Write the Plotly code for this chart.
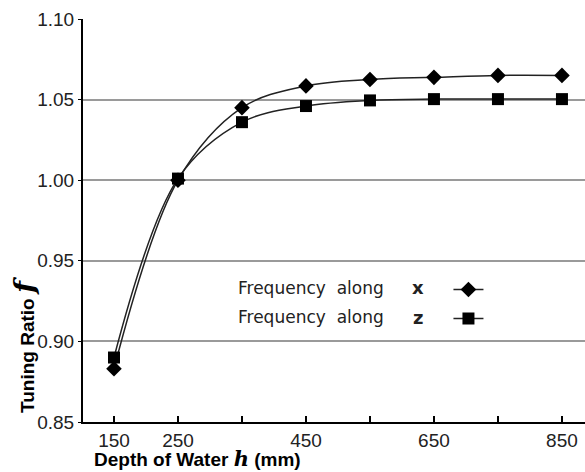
import plotly.graph_objects as go

# Data
depth = [150, 250, 350, 450, 550, 650, 750, 850]
freq_x = [0.883, 1.000, 1.045, 1.0585, 1.0625, 1.0638, 1.065, 1.065]
freq_z = [0.890, 1.001, 1.036, 1.046, 1.0495, 1.0503, 1.0503, 1.0503]
x_tickvals = [150, 250, 350, 450, 550, 650, 750, 850]
x_ticktext = ["150", "250", "", "450", "", "650", "", "850"]
y_tickvals = [0.85, 0.90, 0.95, 1.00, 1.05, 1.10]
y_ticktext = ["0.85", "0.90", "0.95", "1.00", "1.05", "1.10"]
series_names = ["Frequency&nbsp; along", "Frequency&nbsp; along"]
series_axes = ["x", "z"]

W, H = 585, 472
ML, MR, MT, MB = 83, 0, 19, 50

fig = go.Figure()
fig.add_trace(go.Scatter(
    x=depth, y=freq_x, mode="lines+markers", name=" ",
    line=dict(color="#222", width=1.5, shape="spline", smoothing=1.0),
    marker=dict(symbol="diamond", size=12, color="black"),
))
fig.add_trace(go.Scatter(
    x=depth, y=freq_z, mode="lines+markers", name=" ",
    line=dict(color="#222", width=1.5, shape="spline", smoothing=1.0),
    marker=dict(symbol="square", size=12, color="black"),
))

tick_font = dict(family="Liberation Sans, Arial, sans-serif", size=19, color="#222")

fig.update_layout(
    width=W, height=H,
    margin=dict(l=ML, r=MR, t=MT, b=MB, pad=0),
    paper_bgcolor="white", plot_bgcolor="white",
    showlegend=True,
    legend=dict(
        x=0.728, y=0.377, xanchor="left", yanchor="top",
        bgcolor="rgba(0,0,0,0)", font=dict(size=20),
        itemwidth=30, tracegroupgap=0,
    ),
    xaxis=dict(
        range=[101.6, 886], tickvals=x_tickvals, ticktext=x_ticktext,
        ticks="inside", ticklen=6, tickwidth=1.5, tickcolor="black",
        showline=True, linecolor="black", linewidth=2,
        showgrid=False, zeroline=False, tickfont=tick_font,
    ),
    yaxis=dict(
        range=[0.85, 1.10], tickvals=y_tickvals, ticktext=y_ticktext,
        ticks="outside", ticklen=3, tickwidth=1, tickcolor="black",
        showline=True, linecolor="black", linewidth=2,
        showgrid=True, gridcolor="#9a9a9a", gridwidth=1.5,
        zeroline=False, tickfont=tick_font,
    ),
)

# axis titles (positioned like the reference, off-centre)
fig.add_annotation(
    xref="paper", yref="paper",
    x=(197 - ML) / (W - ML - MR), y=(H - MB - 458) / (H - MT - MB),
    text="<b>Depth of Water </b><i><span style='font-family:DejaVu Serif;font-size:21px'><b>h</b></span></i><b> (mm)</b>",
    showarrow=False, xanchor="center", yanchor="middle",
    font=dict(family="Liberation Sans, Arial, sans-serif", size=19, color="black"),
)
fig.add_annotation(
    xref="paper", yref="paper",
    x=(24 - ML) / (W - ML - MR), y=(H - MB - 345) / (H - MT - MB),
    text="<b>Tuning Ratio </b><i><span style='font-family:DejaVu Serif;font-size:28px'><b>f</b></span></i>",
    showarrow=False, textangle=-90, xanchor="center", yanchor="middle",
    font=dict(family="Liberation Sans, Arial, sans-serif", size=19, color="black"),
)

# legend texts
row_y = [0.9332, 0.9150]
for name, ax, ry in zip(series_names, series_axes, row_y):
    fig.add_annotation(
        x=340, y=ry, xref="x", yref="y", text=name, showarrow=False,
        xanchor="left", yanchor="middle",
        font=dict(family="DejaVu Sans, sans-serif", size=17, color="#222"),
    )
    fig.add_annotation(
        x=625, y=ry, xref="x", yref="y", text="<b>" + ax + "</b>", showarrow=False,
        xanchor="center", yanchor="middle",
        font=dict(family="DejaVu Sans, sans-serif", size=18, color="#222"),
    )

fig.write_html("out.html")
